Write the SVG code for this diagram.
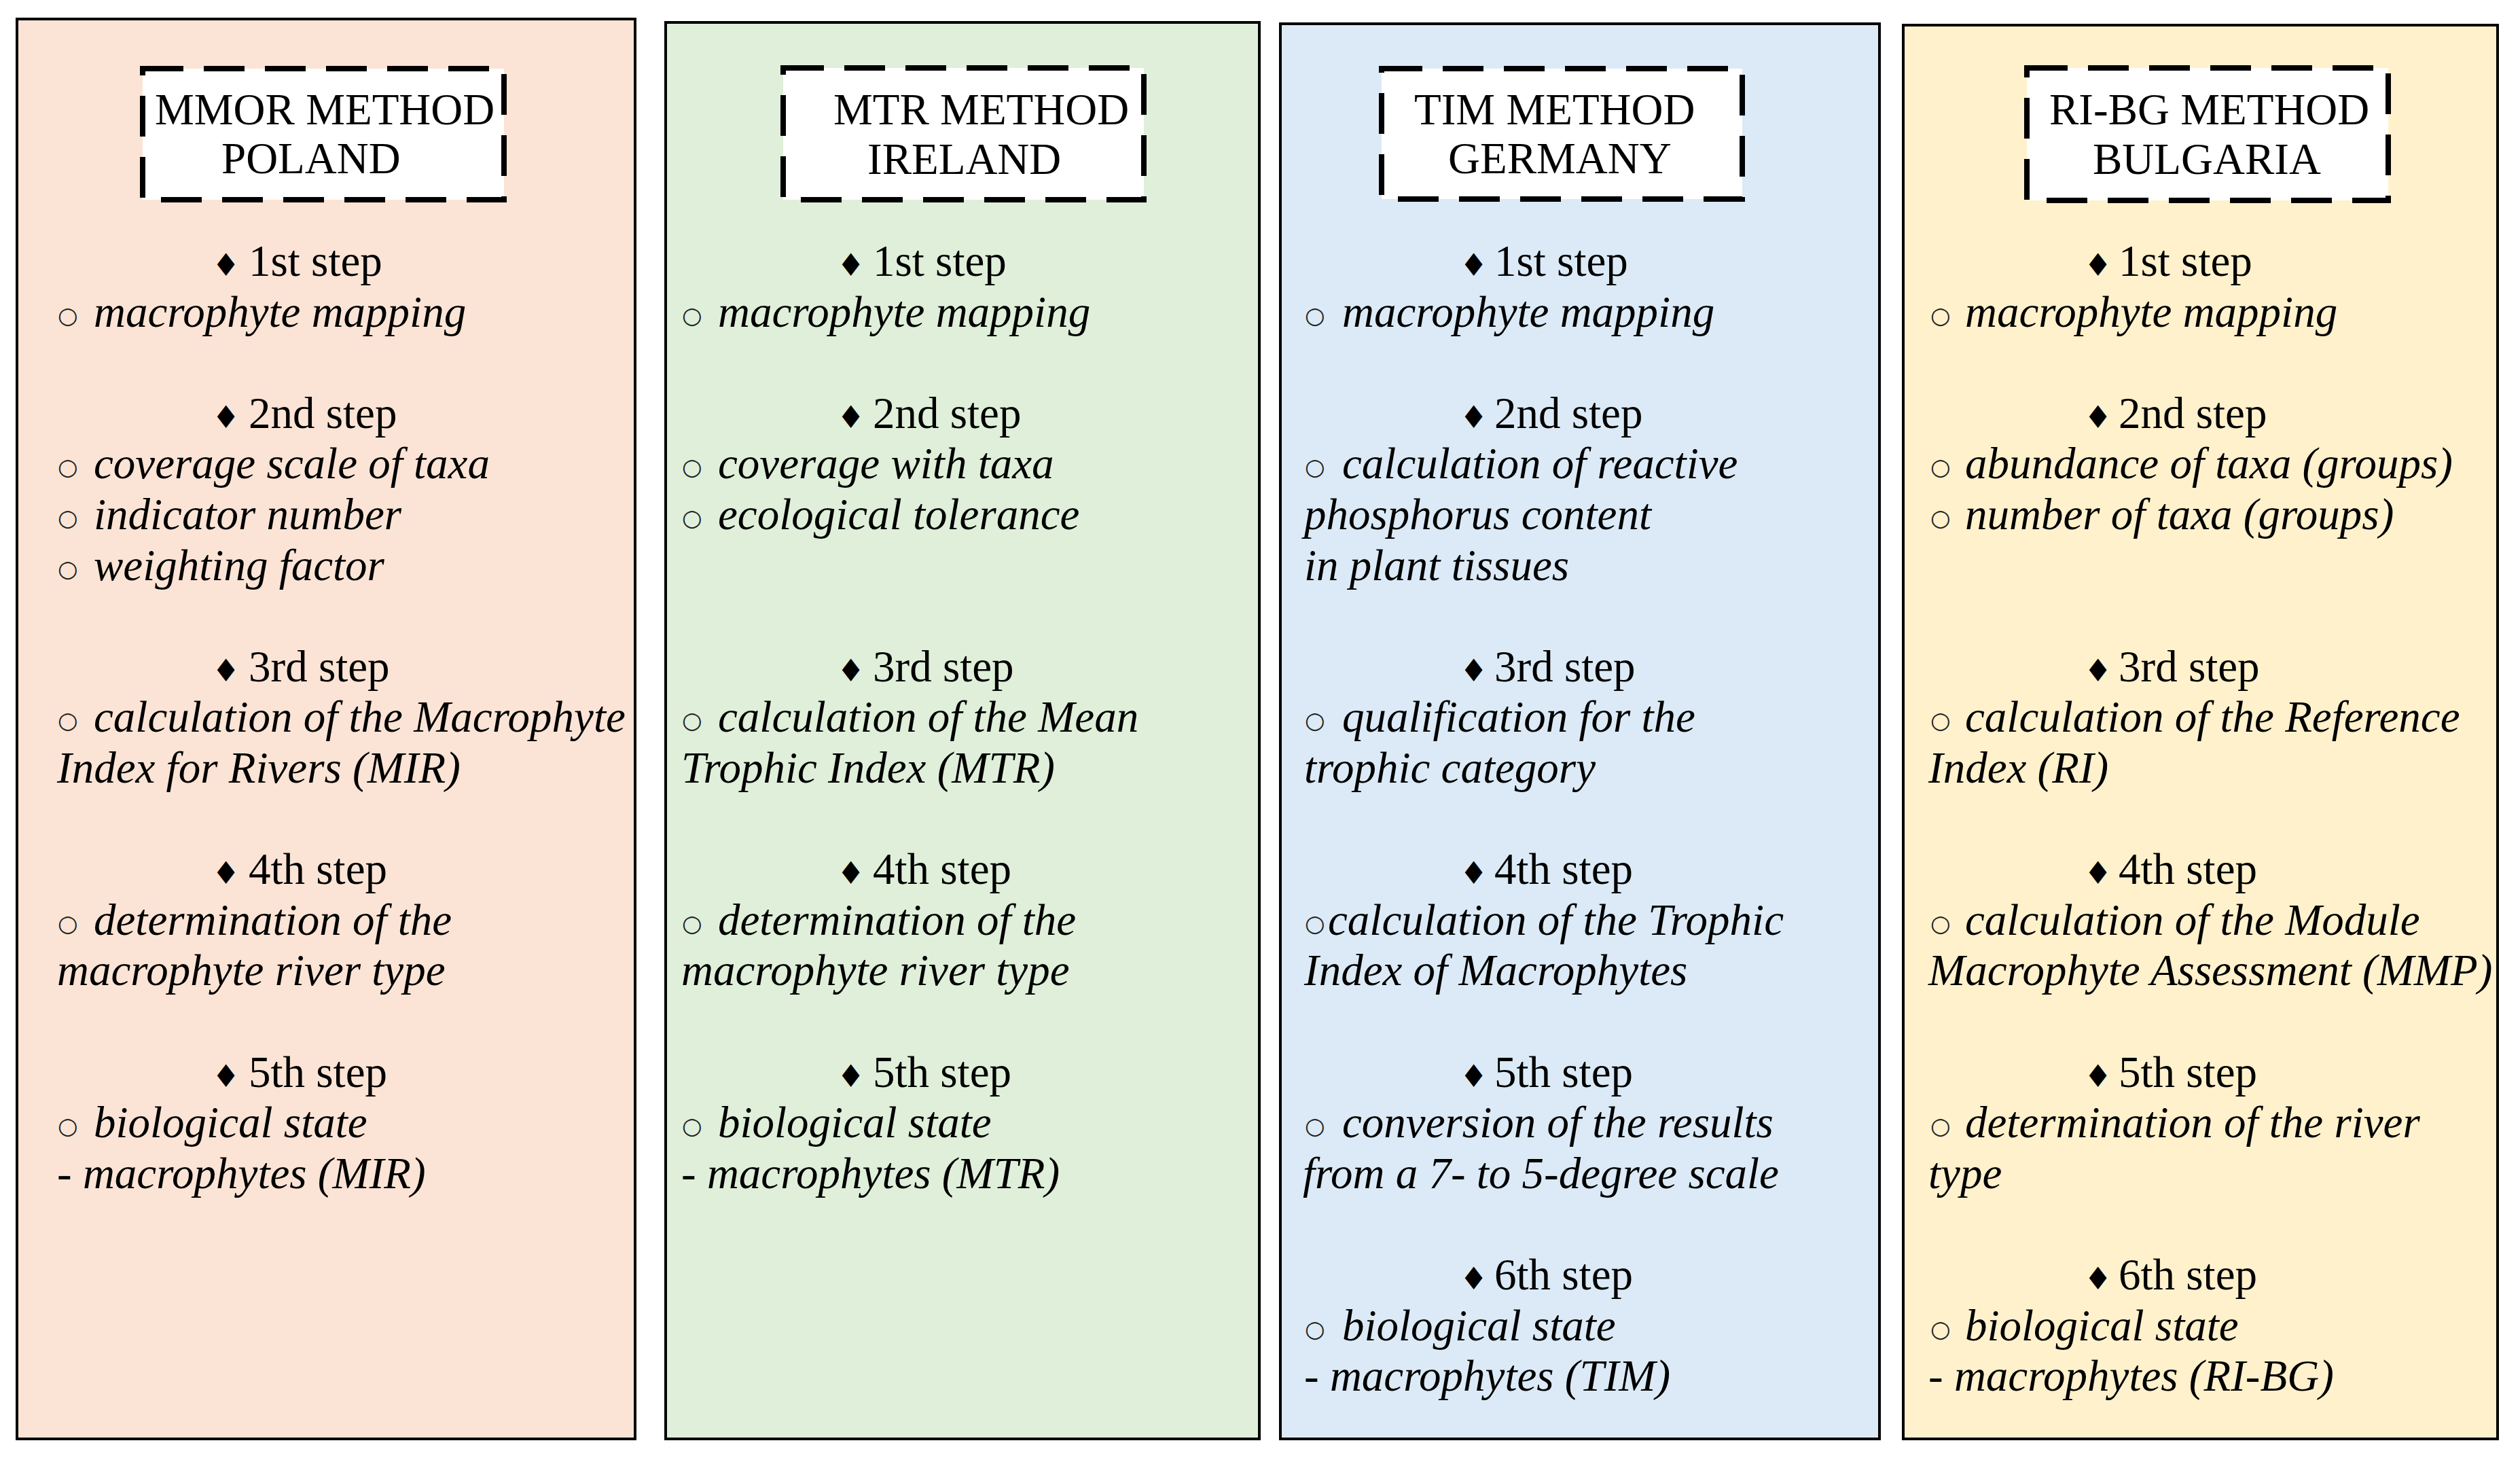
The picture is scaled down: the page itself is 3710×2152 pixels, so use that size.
<svg xmlns="http://www.w3.org/2000/svg" width="3710" height="2152" viewBox="0 0 3710 2152">
<style>
.panel{stroke:#000;stroke-width:4}
.p1{fill:#FBE4D5}.p2{fill:#DFEFDA}.p3{fill:#DBEAF6}.p4{fill:#FFF1CC}
.hbox{fill:#fff;stroke:#000;stroke-width:8;stroke-dasharray:60 30}
text{font-family:"Liberation Serif","Times New Roman",serif;font-size:65px;fill:#000}
.i{font-style:italic}
.dia{font-family:"DejaVu Sans",sans-serif;font-size:46px;font-style:normal}
.bul{font-family:"DejaVu Sans",sans-serif;font-size:34px;font-style:normal;fill:#222}
</style>
<rect x="0" y="0" width="3710" height="2152" fill="#fff"/>
<g id="connectors"/>

<g id="panel-mmor">
<rect class="panel p1" x="25" y="28" width="910" height="2090"/>
<rect class="hbox" x="210" y="101" width="532" height="193"/>
<text x="228" y="183">MMOR METHOD</text>
<text x="326" y="255">POLAND</text>
<text y="406"><tspan class="dia" x="312">♦ </tspan><tspan x="366">1st step</tspan></text>
<text class="i" y="481"><tspan class="bul" x="85" y="476">○ </tspan><tspan x="138" y="481">macrophyte mapping</tspan></text>
<text y="630"><tspan class="dia" x="312">♦ </tspan><tspan x="366">2nd step</tspan></text>
<text class="i" y="704"><tspan class="bul" x="85" y="699">○ </tspan><tspan x="138" y="704">coverage scale of taxa</tspan></text>
<text class="i" y="779"><tspan class="bul" x="85" y="774">○ </tspan><tspan x="138" y="779">indicator number</tspan></text>
<text class="i" y="854"><tspan class="bul" x="85" y="849">○ </tspan><tspan x="138" y="854">weighting factor</tspan></text>
<text y="1003"><tspan class="dia" x="312">♦ </tspan><tspan x="366">3rd step</tspan></text>
<text class="i" y="1077"><tspan class="bul" x="85" y="1072">○ </tspan><tspan x="138" y="1077">calculation of the Macrophyte</tspan></text>
<text class="i" x="84" y="1152">Index for Rivers (MIR)</text>
<text y="1301"><tspan class="dia" x="312">♦ </tspan><tspan x="366">4th step</tspan></text>
<text class="i" y="1376"><tspan class="bul" x="85" y="1371">○ </tspan><tspan x="138" y="1376">determination of the</tspan></text>
<text class="i" x="84" y="1450">macrophyte river type</text>
<text y="1600"><tspan class="dia" x="312">♦ </tspan><tspan x="366">5th step</tspan></text>
<text class="i" y="1674"><tspan class="bul" x="85" y="1669">○ </tspan><tspan x="138" y="1674">biological state</tspan></text>
<text class="i" x="84" y="1749">- macrophytes (MIR)</text>
</g>

<g id="panel-mtr">
<rect class="panel p2" x="980" y="33" width="874" height="2085"/>
<rect class="hbox" x="1153" y="100" width="531" height="194"/>
<text x="1227" y="183">MTR METHOD</text>
<text x="1277" y="256">IRELAND</text>
<text y="406"><tspan class="dia" x="1232">♦ </tspan><tspan x="1285">1st step</tspan></text>
<text class="i" y="481"><tspan class="bul" x="1004" y="476">○ </tspan><tspan x="1057" y="481">macrophyte mapping</tspan></text>
<text y="630"><tspan class="dia" x="1232">♦ </tspan><tspan x="1285">2nd step</tspan></text>
<text class="i" y="704"><tspan class="bul" x="1004" y="699">○ </tspan><tspan x="1057" y="704">coverage with taxa</tspan></text>
<text class="i" y="779"><tspan class="bul" x="1004" y="774">○ </tspan><tspan x="1057" y="779">ecological tolerance</tspan></text>
<text y="1003"><tspan class="dia" x="1232">♦ </tspan><tspan x="1285">3rd step</tspan></text>
<text class="i" y="1077"><tspan class="bul" x="1004" y="1072">○ </tspan><tspan x="1057" y="1077">calculation of the Mean</tspan></text>
<text class="i" x="1003" y="1152">Trophic Index (MTR)</text>
<text y="1301"><tspan class="dia" x="1232">♦ </tspan><tspan x="1285">4th step</tspan></text>
<text class="i" y="1376"><tspan class="bul" x="1004" y="1371">○ </tspan><tspan x="1057" y="1376">determination of the</tspan></text>
<text class="i" x="1003" y="1450">macrophyte river type</text>
<text y="1600"><tspan class="dia" x="1232">♦ </tspan><tspan x="1285">5th step</tspan></text>
<text class="i" y="1674"><tspan class="bul" x="1004" y="1669">○ </tspan><tspan x="1057" y="1674">biological state</tspan></text>
<text class="i" x="1003" y="1749">- macrophytes (MTR)</text>
</g>

<g id="panel-tim">
<rect class="panel p3" x="1885" y="35" width="882" height="2083"/>
<rect class="hbox" x="2034" y="101" width="531" height="192"/>
<text x="2082" y="183">TIM METHOD</text>
<text x="2132" y="255">GERMANY</text>
<text y="406"><tspan class="dia" x="2149">♦ </tspan><tspan x="2200">1st step</tspan></text>
<text class="i" y="481"><tspan class="bul" x="1921" y="476">○ </tspan><tspan x="1976" y="481">macrophyte mapping</tspan></text>
<text y="630"><tspan class="dia" x="2149">♦ </tspan><tspan x="2200">2nd step</tspan></text>
<text class="i" y="704"><tspan class="bul" x="1921" y="699">○ </tspan><tspan x="1976" y="704">calculation of reactive</tspan></text>
<text class="i" x="1920" y="779">phosphorus content</text>
<text class="i" x="1920" y="854">in plant tissues</text>
<text y="1003"><tspan class="dia" x="2149">♦ </tspan><tspan x="2200">3rd step</tspan></text>
<text class="i" y="1077"><tspan class="bul" x="1921" y="1072">○ </tspan><tspan x="1976" y="1077">qualification for the</tspan></text>
<text class="i" x="1920" y="1152">trophic category</text>
<text y="1301"><tspan class="dia" x="2149">♦ </tspan><tspan x="2200">4th step</tspan></text>
<text class="i" y="1376"><tspan class="bul" x="1921" y="1371">○</tspan><tspan x="1955" y="1376">calculation of the Trophic</tspan></text>
<text class="i" x="1920" y="1450">Index of Macrophytes</text>
<text y="1600"><tspan class="dia" x="2149">♦ </tspan><tspan x="2200">5th step</tspan></text>
<text class="i" y="1674"><tspan class="bul" x="1921" y="1669">○ </tspan><tspan x="1976" y="1674">conversion of the results</tspan></text>
<text class="i" x="1918" y="1749">from a 7- to 5-degree scale</text>
<text y="1898"><tspan class="dia" x="2149">♦ </tspan><tspan x="2200">6th step</tspan></text>
<text class="i" y="1973"><tspan class="bul" x="1921" y="1968">○ </tspan><tspan x="1976" y="1973">biological state</tspan></text>
<text class="i" x="1920" y="2047">- macrophytes (TIM)</text>
</g>

<g id="panel-ribg">
<rect class="panel p4" x="2802" y="37" width="875" height="2081"/>
<rect class="hbox" x="2984" y="100" width="532" height="195"/>
<text x="3017" y="183">RI-BG METHOD</text>
<text x="3081" y="256">BULGARIA</text>
<text y="406"><tspan class="dia" x="3068">♦ </tspan><tspan x="3119">1st step</tspan></text>
<text class="i" y="481"><tspan class="bul" x="2842" y="476">○ </tspan><tspan x="2893" y="481">macrophyte mapping</tspan></text>
<text y="630"><tspan class="dia" x="3068">♦ </tspan><tspan x="3119">2nd step</tspan></text>
<text class="i" y="704"><tspan class="bul" x="2842" y="699">○ </tspan><tspan x="2893" y="704">abundance of taxa (groups)</tspan></text>
<text class="i" y="779"><tspan class="bul" x="2842" y="774">○ </tspan><tspan x="2893" y="779">number of taxa (groups)</tspan></text>
<text y="1003"><tspan class="dia" x="3068">♦ </tspan><tspan x="3119">3rd step</tspan></text>
<text class="i" y="1077"><tspan class="bul" x="2842" y="1072">○ </tspan><tspan x="2893" y="1077">calculation of the Reference</tspan></text>
<text class="i" x="2839" y="1152">Index (RI)</text>
<text y="1301"><tspan class="dia" x="3068">♦ </tspan><tspan x="3119">4th step</tspan></text>
<text class="i" y="1376"><tspan class="bul" x="2842" y="1371">○ </tspan><tspan x="2893" y="1376">calculation of the Module</tspan></text>
<text class="i" x="2839" y="1450">Macrophyte Assessment (MMP)</text>
<text y="1600"><tspan class="dia" x="3068">♦ </tspan><tspan x="3119">5th step</tspan></text>
<text class="i" y="1674"><tspan class="bul" x="2842" y="1669">○ </tspan><tspan x="2893" y="1674">determination of the river</tspan></text>
<text class="i" x="2839" y="1749">type</text>
<text y="1898"><tspan class="dia" x="3068">♦ </tspan><tspan x="3119">6th step</tspan></text>
<text class="i" y="1973"><tspan class="bul" x="2842" y="1968">○ </tspan><tspan x="2893" y="1973">biological state</tspan></text>
<text class="i" x="2839" y="2047">- macrophytes (RI-BG)</text>
</g>
</svg>
